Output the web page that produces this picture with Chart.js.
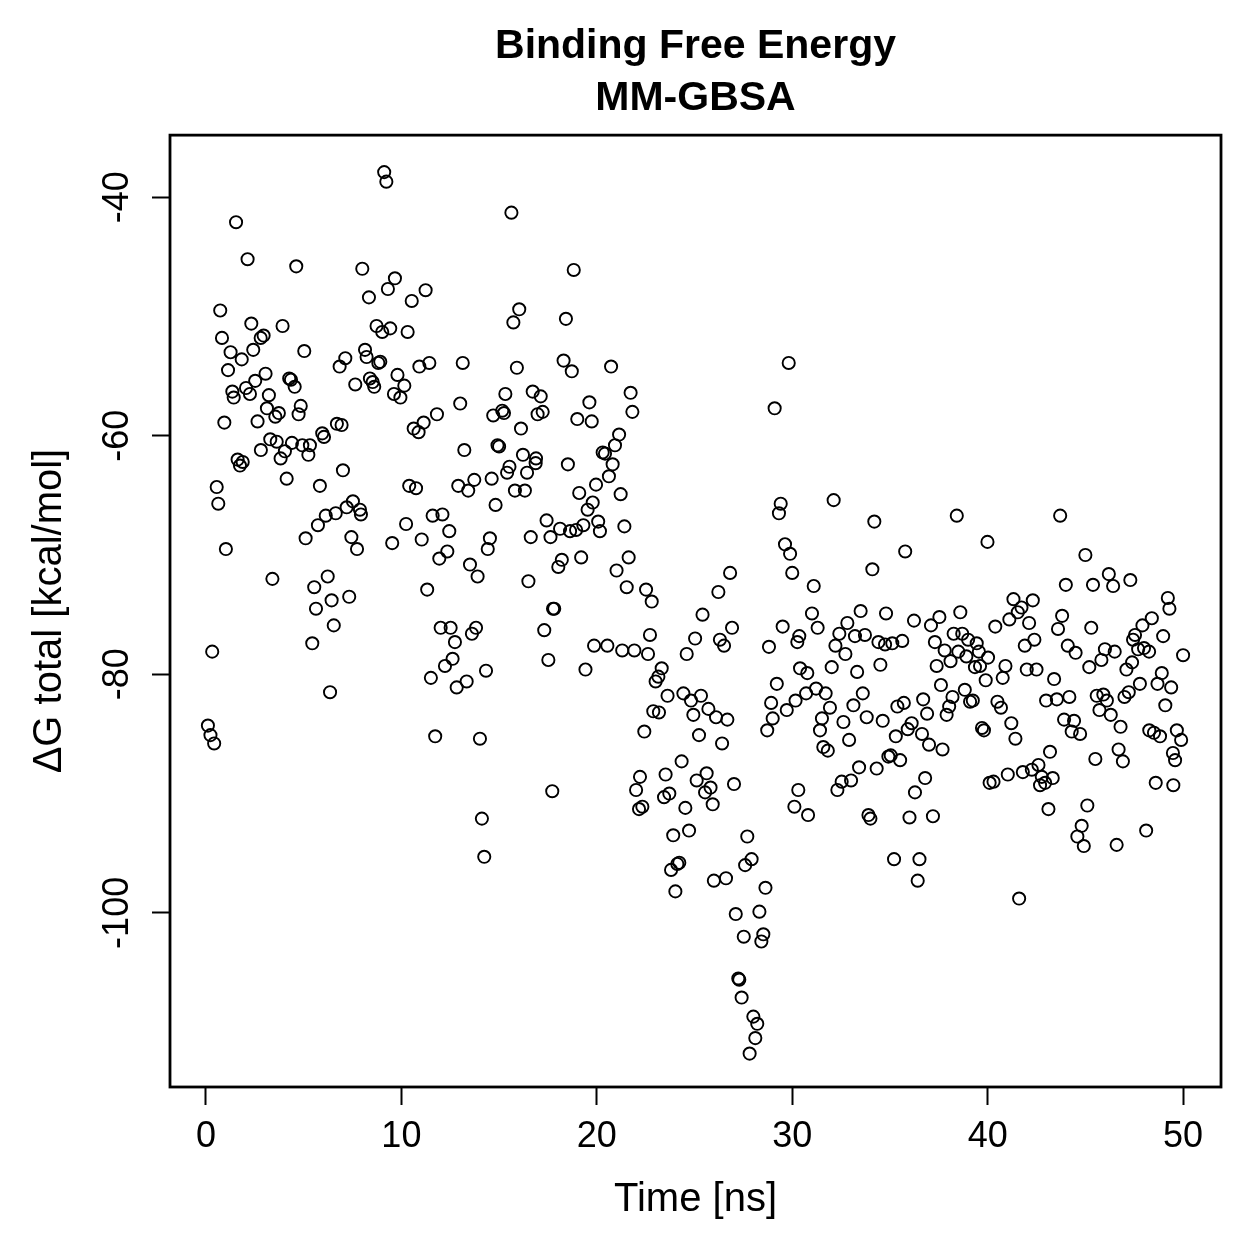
<!DOCTYPE html>
<html>
<head>
<meta charset="utf-8">
<title>Binding Free Energy - MM-GBSA</title>
<script src="https://cdn.jsdelivr.net/npm/chart.js@4.4.0/dist/chart.umd.min.js"></script>
<style>
  html, body { margin: 0; padding: 0; background: #fff; }
  #wrap { width: 1259px; height: 1259px; }
</style>
</head>
<body>
<div id="wrap"><canvas id="chart" width="1259" height="1259"></canvas></div>
<script>
// simulation time (ns) and total binding free energy (kcal/mol)
const timeNs = [
  0.10, 0.23, 0.32, 0.42, 0.55, 0.63, 0.73, 0.82, 0.94, 1.02, 1.13, 1.26, 1.35, 1.42, 1.54, 1.62, 1.74, 1.83, 1.88, 2.05,
  2.13, 2.25, 2.32, 2.42, 2.52, 2.64, 2.80, 2.81, 2.95, 3.05, 3.12, 3.22, 3.29, 3.40, 3.55, 3.62, 3.73, 3.82, 3.92, 4.04,
  4.13, 4.26, 4.35, 4.40, 4.54, 4.62, 4.74, 4.85, 4.93, 5.03, 5.10, 5.24, 5.32, 5.44, 5.54, 5.63, 5.73, 5.83, 5.95, 6.04,
  6.13, 6.23, 6.35, 6.43, 6.54, 6.64, 6.70, 6.84, 6.94, 7.01, 7.13, 7.20, 7.33, 7.44, 7.52, 7.64, 7.73, 7.88, 7.93, 8.00,
  8.14, 8.22, 8.34, 8.39, 8.53, 8.61, 8.73, 8.82, 8.92, 9.02, 9.12, 9.23, 9.31, 9.43, 9.53, 9.62, 9.67, 9.80, 9.95,
  10.15, 10.24, 10.32, 10.40, 10.53, 10.63, 10.75, 10.88, 10.92, 11.04, 11.14, 11.24, 11.32, 11.43, 11.51, 11.60, 11.73, 11.82, 11.94, 12.01,
  12.10, 12.23, 12.35, 12.45, 12.52, 12.62, 12.74, 12.83, 12.91, 13.01, 13.14, 13.22, 13.34, 13.42, 13.51, 13.61, 13.73, 13.82, 13.90, 14.02,
  14.12, 14.24, 14.33, 14.42, 14.53, 14.62, 14.70, 14.82, 14.92, 15.00, 15.16, 15.25, 15.32, 15.41, 15.53, 15.63, 15.73, 15.81, 15.91, 16.03,
  16.12, 16.22, 16.32, 16.43, 16.50, 16.62, 16.72, 16.87, 16.89, 16.97, 17.13, 17.23, 17.31, 17.43, 17.52, 17.63, 17.72, 17.76, 17.82, 18.03,
  18.12, 18.21, 18.30, 18.42, 18.52, 18.63, 18.72, 18.82, 18.94, 19.00, 19.10, 19.20, 19.31, 19.42, 19.53, 19.62, 19.74, 19.79, 19.86, 19.96,
  20.07, 20.16, 20.30, 20.42, 20.54, 20.62, 20.73, 20.81, 20.93, 21.01, 21.14, 21.22, 21.30, 21.41, 21.53, 21.63, 21.73, 21.82, 21.92, 22.01,
  22.16, 22.21, 22.33, 22.43, 22.52, 22.62, 22.72, 22.81, 22.89, 23.01, 23.15, 23.18, 23.32, 23.44, 23.52, 23.62, 23.71, 23.80, 23.91, 24.02,
  24.12, 24.22, 24.34, 24.43, 24.53, 24.60, 24.72, 24.82, 24.94, 25.03, 25.11, 25.23, 25.33, 25.41, 25.54, 25.62, 25.71, 25.82, 25.93, 25.99,
  26.10, 26.22, 26.30, 26.41, 26.51, 26.61, 26.68, 26.82, 26.92, 27.02, 27.11, 27.24, 27.29, 27.41, 27.52, 27.59, 27.70, 27.82, 27.92, 28.01,
  28.11, 28.21, 28.32, 28.42, 28.52, 28.63, 28.72, 28.81, 28.92, 29.00, 29.10, 29.21, 29.32, 29.41, 29.51, 29.63, 29.72, 29.82, 29.89, 30.00,
  30.11, 30.17, 30.26, 30.31, 30.36, 30.40, 30.71, 30.77, 30.81, 31.01, 31.10, 31.22, 31.30, 31.42, 31.52, 31.59, 31.71, 31.82, 31.93, 32.02,
  32.12, 32.21, 32.31, 32.41, 32.53, 32.62, 32.72, 32.82, 32.91, 33.01, 33.13, 33.21, 33.32, 33.42, 33.50, 33.61, 33.72, 33.81, 33.90, 34.00,
  34.10, 34.20, 34.32, 34.41, 34.51, 34.63, 34.75, 34.80, 34.92, 35.04, 35.12, 35.21, 35.30, 35.38, 35.52, 35.63, 35.71, 35.78, 35.91, 36.00,
  36.11, 36.23, 36.28, 36.42, 36.51, 36.64, 36.70, 36.80, 36.90, 37.00, 37.10, 37.20, 37.30, 37.39, 37.53, 37.61, 37.69, 37.80, 37.90, 38.03,
  38.10, 38.20, 38.26, 38.42, 38.50, 38.60, 38.70, 38.83, 38.91, 39.00, 39.10, 39.24, 39.35, 39.44, 39.55, 39.61, 39.71, 39.81, 39.90, 39.99,
  40.02, 40.10, 40.30, 40.39, 40.50, 40.68, 40.77, 40.91, 41.03, 41.11, 41.21, 41.32, 41.42, 41.54, 41.61, 41.73, 41.80, 41.90, 42.00, 42.12,
  42.26, 42.31, 42.39, 42.50, 42.60, 42.68, 42.77, 42.94, 42.99, 43.11, 43.19, 43.33, 43.40, 43.54, 43.60, 43.71, 43.81, 43.91, 44.00, 44.10,
  44.18, 44.30, 44.42, 44.50, 44.59, 44.73, 44.81, 44.92, 45.00, 45.10, 45.20, 45.30, 45.39, 45.51, 45.58, 45.72, 45.82, 45.92, 46.00, 46.10,
  46.20, 46.30, 46.42, 46.50, 46.60, 46.70, 46.80, 46.92, 47.00, 47.10, 47.22, 47.30, 47.39, 47.44, 47.54, 47.70, 47.79, 47.92, 48.00, 48.11,
  48.26, 48.27, 48.40, 48.51, 48.60, 48.69, 48.82, 48.91, 48.98, 49.09, 49.22, 49.30, 49.39, 49.48, 49.50, 49.59, 49.68, 49.90, 50.00
];
const deltaG = [
  -84.3, -85.1, -78.1, -85.8, -64.3, -65.7, -49.5, -51.8, -58.9, -69.5, -54.5, -53.0, -56.3, -56.8, -42.1, -62.0, -62.5, -53.6, -62.2, -56.0,
  -45.2, -56.5, -50.6, -52.8, -55.4, -58.8, -51.8, -61.2, -51.6, -54.8, -57.7, -56.6, -60.3, -72.0, -58.4, -60.5, -58.1, -61.9, -50.8, -61.3,
  -63.6, -55.2, -55.3, -60.6, -55.9, -45.8, -58.2, -57.5, -60.8, -52.9, -68.6, -61.6, -60.8, -77.4, -72.7, -74.5, -67.5, -64.2, -59.8, -60.1,
  -66.7, -71.8, -81.5, -73.8, -75.9, -66.5, -59.0, -54.2, -59.1, -62.9, -53.5, -66.0, -73.5, -68.5, -65.5, -55.7, -69.5, -66.2, -66.6, -46.0,
  -52.8, -53.4, -48.4, -55.2, -55.5, -55.9, -50.8, -53.9, -53.8, -51.3, -37.9, -38.7, -47.7, -51.0, -69.0, -56.5, -46.8, -54.9, -56.8,
  -55.8, -67.4, -51.3, -64.2, -48.7, -59.4, -64.4, -59.7, -54.2, -68.7, -58.9, -47.8, -72.9, -53.9, -80.3, -66.7, -85.2, -58.2, -70.3, -76.1,
  -66.6, -79.3, -69.7, -68.0, -76.1, -78.7, -77.3, -81.1, -64.2, -57.3, -53.9, -61.2, -80.6, -64.6, -70.8, -76.6, -63.7, -76.1, -71.8, -85.4,
  -92.1, -95.3, -79.7, -69.5, -68.6, -63.6, -58.3, -65.8, -60.8, -60.9, -57.9, -58.1, -56.5, -63.1, -62.6, -41.3, -50.5, -64.6, -54.3, -49.4,
  -59.4, -61.6, -64.6, -63.1, -72.2, -68.5, -56.3, -62.3, -61.9, -58.2, -56.7, -58.0, -76.3, -67.1, -78.8, -68.5, -89.8, -74.5, -74.5, -71.0,
  -67.8, -70.4, -53.7, -50.2, -62.4, -68.0, -54.6, -46.1, -67.9, -58.6, -64.8, -70.2, -67.5, -79.6, -66.2, -57.2, -58.8, -65.6, -77.6, -64.1,
  -67.2, -68.0, -61.4, -61.5, -77.6, -63.4, -54.2, -62.4, -60.8, -71.3, -59.9, -64.9, -78.0, -67.6, -72.7, -70.2, -56.4, -58.0, -78.0, -89.7,
  -91.3, -88.6, -91.1, -84.8, -72.9, -78.3, -76.7, -73.9, -83.1, -80.6, -80.2, -83.2, -79.5, -90.3, -88.4, -81.8, -90.0, -96.4, -93.5, -98.2,
  -95.9, -95.8, -87.3, -81.6, -91.2, -78.3, -93.1, -82.2, -83.4, -77.0, -88.9, -85.1, -81.8, -75.0, -89.9, -88.3, -82.9, -89.5, -90.9, -97.3,
  -83.6, -73.1, -77.1, -85.8, -77.6, -97.1, -83.8, -71.5, -76.1, -89.2, -100.1, -105.5, -105.6, -107.1, -102.0, -96.0, -93.6, -111.8, -95.5, -108.7,
  -110.5, -109.3, -99.9, -102.4, -101.8, -97.9, -84.7, -77.7, -82.4, -83.7, -57.7, -80.8, -66.5, -65.7, -76.0, -69.1, -83.0, -53.9, -69.9, -71.5,
  -91.1, -82.2, -77.3, -89.7, -76.8, -79.5, -81.6, -79.9, -91.8, -74.9, -72.6, -81.2, -76.1, -84.7, -83.7, -86.1, -81.6, -86.4, -82.8, -79.4,
  -65.4, -77.6, -89.7, -76.6, -89.0, -84.0, -78.3, -75.7, -85.5, -88.9, -82.6, -76.8, -79.8, -87.8, -74.7, -81.6, -76.7, -83.6, -91.8, -92.1,
  -71.2, -67.2, -87.9, -77.3, -79.2, -83.9, -77.5, -74.9, -86.9, -86.8, -77.4, -95.5, -85.2, -82.7, -87.2, -77.2, -82.4, -69.7, -84.6, -92.0,
  -84.1, -75.5, -89.9, -97.3, -95.5, -85.0, -82.1, -88.7, -83.3, -85.9, -75.9, -91.9, -77.3, -79.3, -75.2, -80.9, -86.3, -78.0, -83.4, -82.7,
  -78.9, -81.9, -76.6, -66.7, -78.1, -74.8, -76.6, -81.3, -78.5, -77.1, -82.3, -82.2, -79.4, -77.4, -78.1, -79.3, -84.5, -84.7, -80.5, -68.9,
  -78.6, -89.1, -89.0, -76.0, -82.3, -82.8, -80.3, -79.3, -88.4, -75.4, -84.1, -73.7, -85.4, -74.8, -98.8, -74.4, -88.2, -77.6, -79.6, -75.7,
  -88.0, -73.8, -77.1, -79.6, -87.6, -89.3, -88.6, -89.1, -82.2, -91.3, -86.5, -88.7, -80.4, -82.1, -76.2, -66.7, -75.1, -83.8, -72.5, -77.6,
  -81.9, -84.8, -83.9, -78.2, -93.6, -85.0, -92.7, -94.4, -70.0, -91.0, -79.4, -76.1, -72.5, -87.1, -81.8, -83.0, -78.8, -81.7, -77.9, -82.2,
  -71.6, -83.4, -72.6, -78.1, -94.3, -86.3, -84.4, -87.3, -81.9, -79.6, -81.5, -72.1, -79.0, -77.1, -76.7, -77.9, -80.8, -75.9, -77.8, -93.1,
  -78.1, -84.7, -75.3, -84.9, -89.1, -80.8, -85.2, -79.9, -76.8, -82.6, -73.6, -74.5, -81.1, -86.6, -89.3, -87.2, -84.7, -85.5, -78.4
];
const xTicks = [0, 10, 20, 30, 40, 50];
const yTicks = [-100, -80, -60, -40];
const titleLines = ['Binding Free Energy', 'MM-GBSA'];

Chart.defaults.font.family = "'Liberation Sans', Arial, sans-serif";
Chart.defaults.color = '#000';

// R-style closed box around the plotting region
const frameBox = {
  id: 'frameBox',
  afterDraw(chart) {
    const { ctx, chartArea: a } = chart;
    ctx.save();
    ctx.strokeStyle = '#000';
    ctx.lineWidth = 2.8;
    ctx.strokeRect(a.left, a.top, a.right - a.left, a.bottom - a.top);
    ctx.restore();
  }
};

const points = timeNs.map((t, i) => ({ x: t, y: deltaG[i] }));

new Chart(document.getElementById('chart').getContext('2d'), {
  type: 'scatter',
  data: {
    datasets: [{
      data: points,
      pointStyle: 'circle',
      pointRadius: 6.1,
      pointHoverRadius: 6.1,
      borderWidth: 1.9,
      borderColor: '#000',
      backgroundColor: 'rgba(0,0,0,0)'
    }]
  },
  options: {
    responsive: false,
    animation: false,
    devicePixelRatio: 1,
    layout: { padding: { left: 0, right: 38, top: 0, bottom: 0 } },
    plugins: {
      legend: { display: false },
      tooltip: { enabled: false },
      title: {
        display: true,
        fullSize: false,
        text: titleLines,
        color: '#000',
        font: { size: 41, weight: 'bold', lineHeight: 1.27 },
        padding: { top: 21, bottom: 10 }
      }
    },
    scales: {
      x: {
        type: 'linear',
        min: -1.84,
        max: 51.94,
        afterBuildTicks: s => { s.ticks = xTicks.map(v => ({ value: v })); },
        afterFit: s => { s.height = 172; },
        grid: { display: true, drawOnChartArea: false, drawTicks: true, tickLength: 18, tickWidth: 2, tickColor: '#000' },
        border: { display: true, color: '#000', width: 2 },
        ticks: { color: '#000', font: { size: 36 }, padding: 10, maxRotation: 0 },
        title: { display: true, text: 'Time [ns]', color: '#000', font: { size: 40 }, padding: { top: 0, bottom: 35 } }
      },
      y: {
        type: 'linear',
        min: -114.6,
        max: -34.8,
        afterBuildTicks: s => { s.ticks = yTicks.map(v => ({ value: v })); },
        afterFit: s => { s.width = 170; },
        grid: { display: true, drawOnChartArea: false, drawTicks: true, tickLength: 18, tickWidth: 2, tickColor: '#000' },
        border: { display: true, color: '#000', width: 2 },
        ticks: { color: '#000', font: { size: 36 }, padding: -2, minRotation: 90, maxRotation: 90, crossAlign: 'center' },
        title: { display: true, text: 'ΔG total [kcal/mol]', color: '#000', font: { size: 40 }, padding: { top: 26, bottom: 0 } }
      }
    }
  },
  plugins: [frameBox]
});
</script>
</body>
</html>
